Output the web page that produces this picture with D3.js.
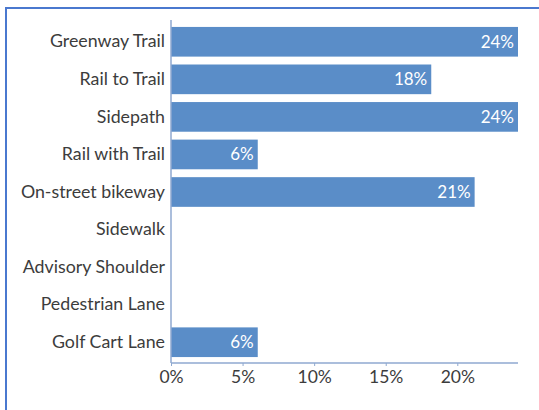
<!DOCTYPE html>
<html><head><meta charset="utf-8">
<script src="https://cdn.jsdelivr.net/npm/d3@7"></script>
<style>
html,body{margin:0;padding:0;background:#fff;}
svg{display:block;}
</style></head>
<body>
<script>
const categories = ["Greenway Trail","Rail to Trail","Sidepath","Rail with Trail","On-street bikeway","Sidewalk","Advisory Shoulder","Pedestrian Lane","Golf Cart Lane"];
const values = [24.24, 18.18, 24.24, 6.06, 21.21, 0, 0, 0, 6.06];
const labels = ["24%","18%","24%","6%","21%","","","","6%"];
const ticks = [0,5,10,15,20];

const W = 539, H = 410;
const svg = d3.select("body").append("svg").attr("width", W).attr("height", H);

// frame
svg.append("path").attr("d", "M6,410 V8 H539").attr("fill","none")
  .attr("stroke","#4a78cf").attr("stroke-width",2);

const x = d3.scaleLinear().domain([0, d3.max(values)]).range([171, 518]);
const y = d3.scaleBand().domain(categories).range([23, 361]).paddingInner(0.21).paddingOuter(0.105);

const font = "Lato, 'Open Sans', sans-serif";
const barColor = "#5a8dc8";

svg.selectAll("rect.bar").data(values).enter().append("rect")
  .attr("x", x(0)).attr("y", (d,i)=>y(categories[i]))
  .attr("width", d=>x(d)-x(0)).attr("height", y.bandwidth())
  .attr("fill", barColor);

svg.selectAll("text.val").data(values).enter().append("text")
  .attr("x", d=>x(d)-4).attr("y", (d,i)=>y(categories[i])+y.bandwidth()/2)
  .attr("dy","0.35em").attr("text-anchor","end")
  .attr("font-family", font).attr("font-size", 17).attr("fill","#fff")
  .text((d,i)=>labels[i]);

// y axis
const yAxis = d3.axisLeft(y).tickSize(0).tickPadding(6);
const gy = svg.append("g").attr("transform", `translate(${x(0)},0)`).call(yAxis);
gy.select(".domain").remove();
gy.selectAll("text").attr("font-family", font).attr("font-size", 17.8).attr("fill","#3c3c3c");
svg.append("line").attr("x1", x(0)).attr("x2", x(0)).attr("y1", 20).attr("y2", 363)
  .attr("stroke","#8fa9d0").attr("stroke-width",1.5);

// x axis
const xAxis = d3.axisBottom(x).tickValues(ticks).tickFormat(d=>d+"%").tickSize(3).tickPadding(5);
const gx = svg.append("g").attr("transform", `translate(0,363)`).call(xAxis);
gx.select(".domain").attr("stroke","#8fa9d0").attr("stroke-width",1.5).attr("d", `M${x(0)},0H${x.range()[1]}`);
gx.selectAll(".tick line").attr("stroke","#8fa9d0");
gx.selectAll("text").attr("font-family", font).attr("font-size", 17.5).attr("fill","#3c3c3c");
</script>
</body></html>
